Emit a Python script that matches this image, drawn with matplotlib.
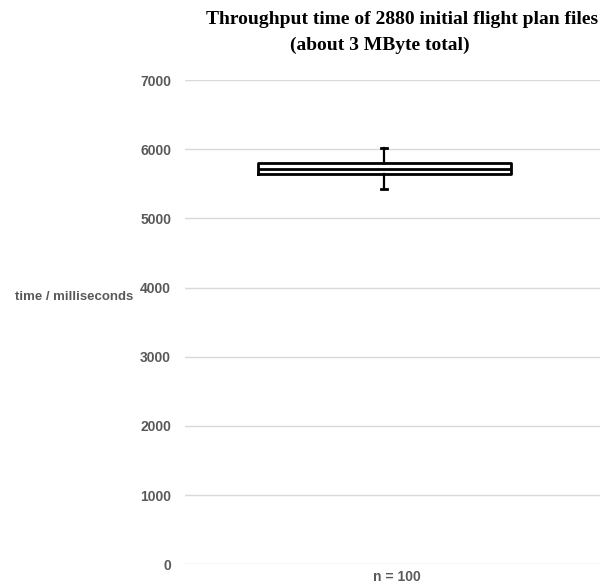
import matplotlib.pyplot as plt
import matplotlib.transforms as mtransforms
import numpy as np

# box plot summary of the throughput runs (milliseconds)
label = "n = 100"
whisker_low = 5420
q1 = 5640
median = 5710
q3 = 5800
whisker_high = 6015
yticks = [0, 1000, 2000, 3000, 4000, 5000, 6000, 7000]

stats = [dict(label=label, whislo=whisker_low, q1=q1, med=median,
              q3=q3, whishi=whisker_high, fliers=[])]

fig = plt.figure(figsize=(6.04, 5.87), dpi=100)
ax = fig.add_axes([0.3063, 0.0387, 0.6871, 0.825])

line = dict(color='black', linewidth=2.0)
ax.bxp(stats, positions=[1], widths=1.22, showfliers=False,
       boxprops=line, medianprops=line, whiskerprops=dict(color='black', linewidth=1.6),
       capprops=dict(color='black', linewidth=2.0), capwidths=0.03)

ax.set_xlim(0.04, 2.04)
ax.set_ylim(0, 7000)
ax.set_yticks(yticks)
ax.set_yticklabels([str(t) for t in yticks])
ax.yaxis.grid(True, color='#d9d9d9', linewidth=1.0)
ax.set_axisbelow(True)
for s in ax.spines.values():
    s.set_visible(False)
ax.tick_params(axis='y', length=0, pad=10, labelsize=10, labelcolor='#595959')
ax.tick_params(axis='x', length=0, pad=4, labelsize=10, labelcolor='#595959')
for t in ax.get_yticklabels() + ax.get_xticklabels():
    t.set_fontfamily('Liberation Sans')
    t.set_fontweight('bold')
# category label sits a little right of the box centre
shift = mtransforms.ScaledTranslation(13 / 100, 0, fig.dpi_scale_trans)
for t in ax.get_xticklabels():
    t.set_transform(t.get_transform() + shift)

fig.text(15 / 604, 1 - 297 / 587, "time / milliseconds", ha='left', va='center',
         fontsize=9.5, color='#595959', family='Liberation Sans', fontweight='bold')

fig.text(402 / 604, 1 - 20 / 587, "Throughput time of 2880 initial flight plan files",
         ha='center', va='center', fontsize=14, family='Liberation Serif', fontweight='bold')
fig.text(380 / 604, 1 - 45 / 587, "(about 3 MByte total)",
         ha='center', va='center', fontsize=14, family='Liberation Serif', fontweight='bold')

fig.savefig('out.png', dpi=100, facecolor='white')
